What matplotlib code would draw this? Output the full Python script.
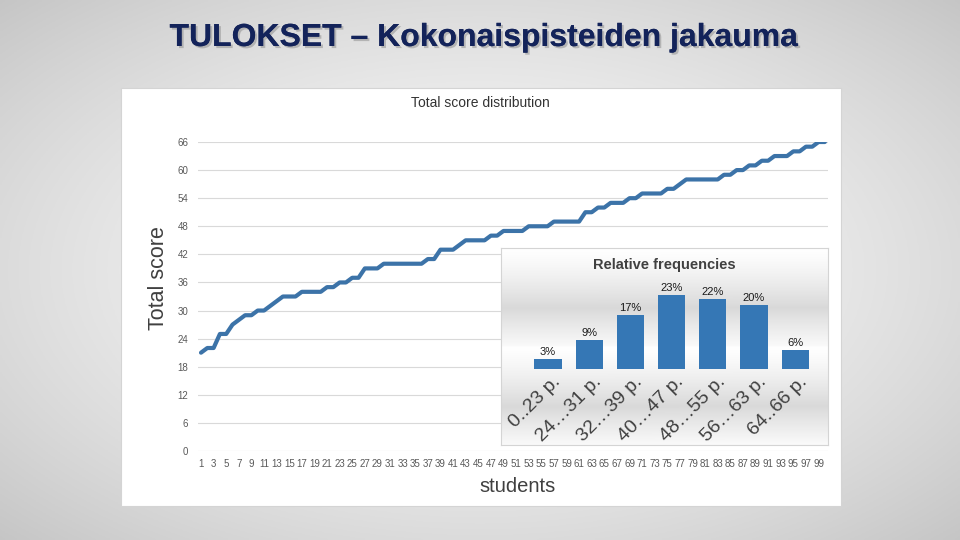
import numpy as np
import matplotlib
matplotlib.use('Agg')
import matplotlib.pyplot as plt
from matplotlib import patheffects
from matplotlib.patches import Rectangle

# ---------------- data ----------------
students = list(range(1, 101))
scores = [21, 22, 22, 25, 25, 27, 28, 29, 29, 30,
          30, 31, 32, 33, 33, 33, 34, 34, 34, 34,
          35, 35, 36, 36, 37, 37, 39, 39, 39, 40,
          40, 40, 40, 40, 40, 40, 41, 41, 43, 43,
          43, 44, 45, 45, 45, 45, 46, 46, 47, 47,
          47, 47, 48, 48, 48, 48, 49, 49, 49, 49,
          49, 51, 51, 52, 52, 53, 53, 53, 54, 54,
          55, 55, 55, 55, 56, 56, 57, 58, 58, 58,
          58, 58, 58, 59, 59, 60, 60, 61, 61, 62,
          62, 63, 63, 63, 64, 64, 65, 65, 66, 66]
y_ticks = [0, 6, 12, 18, 24, 30, 36, 42, 48, 54, 60, 66]
x_ticks = list(range(1, 100, 2))
x_tick_labels = [str(v) for v in x_ticks]

bin_labels = ["0..23 p.", "24…31 p.", "32…39 p.", "40…47 p.",
              "48…55 p.", "56…63 p.", "64..66 p."]
rel_freq = [3, 9, 17, 23, 22, 20, 6]

main_title = "TULOKSET – Kokonaispisteiden jakauma"
chart_title = "Total score distribution"
inset_title = "Relative frequencies"

plt.rcParams['font.family'] = ['Liberation Sans', 'DejaVu Sans']

W, H = 960, 540
fig = plt.figure(figsize=(9.6, 5.4), dpi=100)


def fx(px):
    return px / W


def fy(py):
    return 1 - py / H


# ---------------- slide background ----------------
bg = fig.add_axes([0, 0, 1, 1], zorder=0)
bg.set_xlim(0, 1)
bg.set_ylim(0, 1)
bg.axis('off')
gx, gy = np.meshgrid(np.linspace(-1, 1, 400), np.linspace(-1, 1, 240))
r = np.sqrt(gx ** 2 + gy ** 2) / np.sqrt(2)
val = 0.975 - 0.20 * r ** 1.6
img = np.dstack([val, val, val])
bg.imshow(img, extent=[0, 1, 0, 1], aspect='auto', zorder=0)

# white chart panel
bg.add_patch(Rectangle((fx(121), fy(506)), fx(841) - fx(121), fy(88) - fy(506),
                       facecolor='white', edgecolor='#d4d4d4', lw=0.8, zorder=1))

# slide title
fig.text(fx(484), fy(38), main_title, ha='center', va='center',
         fontsize=23, fontweight='bold', color='#13235a',
         family=['Liberation Sans Narrow', 'Liberation Sans', 'DejaVu Sans'],
         path_effects=[patheffects.withSimplePatchShadow(offset=(1.5, -1.5),
                                                         shadow_rgbFace='#8a8a8a',
                                                         alpha=0.5),
                       patheffects.Normal()])

fig.text(fx(480), fy(103), chart_title, ha='center', va='center',
         fontsize=10, color='#333333')

# ---------------- main line chart ----------------
ax = fig.add_axes([fx(197.85), fy(451), fx(828) - fx(197.85), fy(142) - fy(451)],
                  zorder=2)
ax.set_facecolor('none')
ax.plot(students, scores, color='#3c73a8', lw=3, solid_joinstyle='round',
        solid_capstyle='round', zorder=3)
ax.set_xlim(0.5, 100.5)
ax.set_ylim(0, 66)
ax.set_yticks(y_ticks)
ax.set_xticks(x_ticks)
ax.set_xticklabels(x_tick_labels)
ax.grid(axis='y', color='#d9d9d9', lw=0.8)
ax.set_axisbelow(True)
for s in ax.spines.values():
    s.set_visible(False)
ax.tick_params(axis='both', length=0, labelsize=7, labelcolor='#595959')
ax.tick_params(axis='y', pad=7)
ax.tick_params(axis='x', pad=6)

fig.text(fx(158), fy(278), "Total score", rotation=90, ha='center', va='center',
         fontsize=15.5, color='#404040')
fig.text(fx(518), fy(487), "students", ha='center', va='center',
         fontsize=14.5, color='#404040')

# ---------------- inset: relative frequencies ----------------
ibg = fig.add_axes([fx(501), fy(445), fx(828) - fx(501), fy(248) - fy(445)], zorder=3)
t = np.linspace(0, 1, 200)
peak = 0.61
g = np.where(t < peak, 1.0 - 0.15 * (t / peak) ** 1.3,
             0.85 + 0.13 * ((t - peak) / (1 - peak)) ** 0.9)
gimg = np.dstack([g, g, g])[:, None, :].repeat(2, axis=1)
gimg = gimg.reshape(200, 2, 3)
ibg.imshow(gimg, extent=[0, 1, 0, 1], aspect='auto', origin='upper')
ibg.set_xticks([])
ibg.set_yticks([])
for s in ibg.spines.values():
    s.set_color('#d4d4d4')
    s.set_linewidth(0.8)

bax = fig.add_axes([fx(527.4), fy(369), fx(815.8) - fx(527.4), fy(289) - fy(369)],
                   zorder=4)
bax.set_facecolor('none')
xpos = np.arange(len(rel_freq))
bax.bar(xpos, rel_freq, width=0.66, color='#3577b5', edgecolor='none')
bax.set_xlim(-0.5, len(rel_freq) - 0.5)
bax.set_ylim(0, 25)
bax.axis('off')
for i, v in enumerate(rel_freq):
    bax.annotate(f"{v}%", (i, v), xytext=(0, 1.5), textcoords='offset points',
                 ha='center', va='bottom', fontsize=8, color='#1a1a1a',
                 annotation_clip=False)
for i, lab in enumerate(bin_labels):
    bax.annotate(lab, (i, 0), xytext=(7, -7.5), textcoords='offset points',
                 rotation=45, rotation_mode='anchor', ha='right', va='center',
                 fontsize=14, color='#404040', annotation_clip=False)

fig.text(fx(664), fy(265), inset_title, ha='center', va='center',
         fontsize=10.5, fontweight='bold', color='#404040', zorder=5)

fig.savefig('out.png', dpi=100)
